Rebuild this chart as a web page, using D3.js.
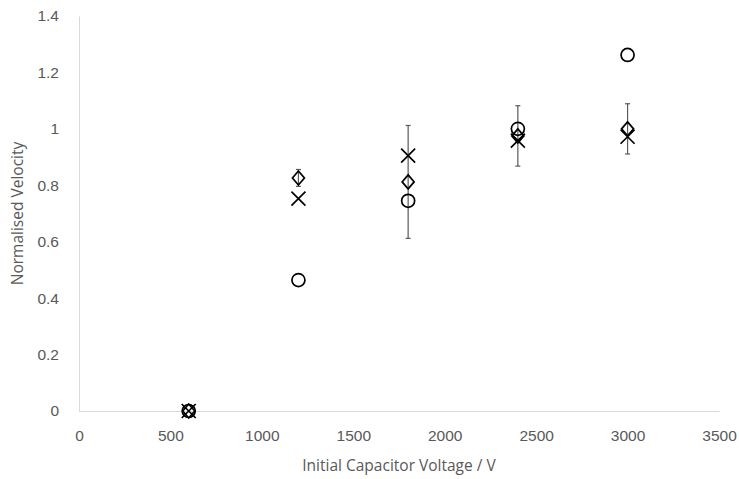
<!DOCTYPE html>
<html>
<head>
<meta charset="utf-8">
<script src="https://cdn.jsdelivr.net/npm/d3@7"></script>
<style>
  body { margin: 0; background: white; }
  svg { display: block; font-family: "Open Sans", "Noto Sans", sans-serif; }
  .tick text { fill: #595959; font-size: 15.5px; }
</style>
</head>
<body>
<svg id="chart" width="739" height="479"></svg>
<script>
const voltages = [600, 1200, 1800, 2400, 3000]
const circleVals = [0, 0.464, 0.745, 1.0, 1.262]
const diamondVals = [0, 0.826, 0.812, 0.975, 1.0]
const diamondErr = [0, 0.03, 0.2, 0.107, 0.089]
const crossVals = [0, 0.753, 0.905, 0.958, 0.972]
const xTicks = [0, 500, 1000, 1500, 2000, 2500, 3000, 3500]
const yTicks = [0, 0.2, 0.4, 0.6, 0.8, 1, 1.2, 1.4]

const svg = d3.select('#chart')
const x = d3.scaleLinear().domain([0, 3500]).range([79, 719])
const y = d3.scaleLinear().domain([0, 1.4]).range([411, 16])

// axes
const xAxis = svg.append('g')
    .attr('transform', `translate(0,${y(0)})`)
    .call(d3.axisBottom(x).tickValues(xTicks).tickSize(0).tickPadding(19).tickFormat(d3.format('d')))
xAxis.select('.domain').attr('stroke', '#d9d9d9').attr('stroke-width', 1)

const yAxis = svg.append('g')
    .attr('transform', `translate(${x(0)},0)`)
    .call(d3.axisLeft(y).tickValues(yTicks).tickSize(0).tickPadding(20).tickFormat(d => d3.format('~g')(d)))
yAxis.select('.domain').attr('stroke', '#d9d9d9').attr('stroke-width', 1)

svg.append('text')
    .attr('x', (x(0) + x(3500)) / 2)
    .attr('y', 471)
    .attr('text-anchor', 'middle')
    .attr('fill', '#595959')
    .attr('font-size', 15.5)
    .text('Initial Capacitor Voltage / V')

svg.append('text')
    .attr('transform', `translate(23,${(y(0) + y(1.4)) / 2}) rotate(-90)`)
    .attr('text-anchor', 'middle')
    .attr('fill', '#595959')
    .attr('font-size', 15.5)
    .text('Normalised Velocity')

// error bars on the diamond series
const err = svg.append('g').attr('stroke', '#595959').attr('stroke-width', 1.2)
voltages.forEach((v, i) => {
    if (!diamondErr[i]) return
    const cx = x(v)
    const lo = y(diamondVals[i] - diamondErr[i])
    const hi = y(diamondVals[i] + diamondErr[i])
    err.append('line').attr('x1', cx).attr('x2', cx).attr('y1', lo).attr('y2', hi)
    err.append('line').attr('x1', cx - 2.5).attr('x2', cx + 2.5).attr('y1', lo).attr('y2', lo)
    err.append('line').attr('x1', cx - 2.5).attr('x2', cx + 2.5).attr('y1', hi).attr('y2', hi)
})

const marks = svg.append('g').attr('fill', 'none').attr('stroke', '#000').attr('stroke-width', 1.7)

marks.selectAll('circle.c')
    .data(voltages)
    .join('circle')
    .attr('cx', d => x(d))
    .attr('cy', (d, i) => y(circleVals[i]))
    .attr('r', 6.5)

marks.selectAll('path.d')
    .data(voltages)
    .join('path')
    .attr('d', (d, i) => {
        const cx = x(d), cy = y(diamondVals[i])
        return `M${cx},${cy - 7}L${cx + 6},${cy}L${cx},${cy + 7}L${cx - 6},${cy}Z`
    })

marks.selectAll('path.x')
    .data(voltages)
    .join('path')
    .attr('d', (d, i) => {
        const cx = x(d), cy = y(crossVals[i]), s = 7
        return `M${cx - s},${cy - s}L${cx + s},${cy + s}M${cx - s},${cy + s}L${cx + s},${cy - s}`
    })
</script>
</body>
</html>
